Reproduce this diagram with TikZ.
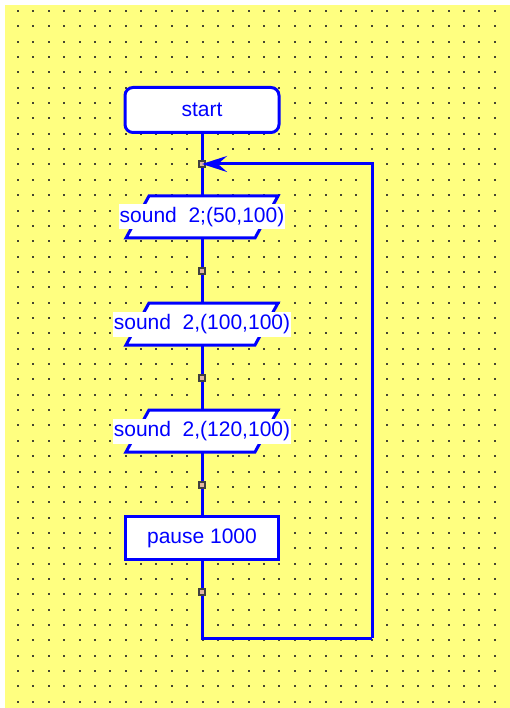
\documentclass[tikz,border=0pt]{standalone}
\usepackage{fontspec}
\setmainfont{Liberation Sans}
\usetikzlibrary{arrows.meta}

\definecolor{paper}{RGB}{255,255,128}
\definecolor{flow}{RGB}{0,0,255}
\definecolor{pin}{RGB}{224,182,160}
\definecolor{griddot}{RGB}{70,70,50}

\begin{document}
\begin{tikzpicture}[x=1pt,y=-1pt,
    >={Stealth[length=25pt,width=16pt,inset=9pt]},
    node distance=107pt,
    every node/.style={font=\fontsize{21}{24}\selectfont,text=flow},
    wire/.style={draw=flow,line width=3pt},
    startbox/.style={draw=flow,line width=3pt,fill=white,rounded corners=8pt,
                     minimum width=154pt,minimum height=45pt},
    pausebox/.style={draw=flow,line width=3pt,fill=white,
                     minimum width=153pt,minimum height=43pt},
    iospot/.style={inner sep=0pt,minimum width=106pt,minimum height=42pt},
    ioline/.style={draw=flow,line width=3pt,fill=white,line join=miter},
    iotext/.style={fill=white,inner xsep=1pt,inner ysep=0pt,minimum height=25pt},
    joint/.style={draw=black!75,fill=pin,line width=1.2pt,inner sep=0pt,minimum size=6pt}]

  % sheet and dot grid
  \fill[white] (0,0) rectangle (510,708);
  \fill[paper] (5,5) rectangle (510,708);
  \foreach \i in {0,...,31}
    \foreach \j in {0,...,45}
      \fill[griddot] ({17+15.38*\i},{10+15.35*\j}) rectangle +(2,2);

  \node[startbox] (start) at (202,110) {start};
  \node[iospot]   (io1) [below of=start] {};
  \node[iospot]   (io2) [below of=io1]   {};
  \node[iospot]   (io3) [below of=io2]   {};
  \node[pausebox] (pause) [below of=io3] {pause 1000};

  % slanted output boxes
  \foreach \n in {io1,io2,io3}
    \draw[ioline] ([shift={(-53,-21)}]\n.center) -- ([shift={(76,-21)}]\n.center)
               -- ([shift={(53,21)}]\n.center) -- ([shift={(-76,21)}]\n.center) -- cycle;

  \node[iotext] (snd1) at (io1) {sound\ \ 2;(50,100)};
  \node[iotext] (snd2) at (io2) {sound\ \ 2,(100,100)};
  \node[iotext] (snd3) at (io3) {sound\ \ 2,(120,100)};

  \coordinate[node distance=54pt,below of=start] (j0);
  \coordinate[node distance=54pt,below of=io1]   (j1);
  \coordinate[node distance=54pt,below of=io2]   (j2);
  \coordinate[node distance=54pt,below of=io3]   (j3);
  \coordinate[node distance=54pt,below of=pause] (j4);
  \coordinate (back) at (372,638);

  \draw[wire] (start) -- (io1) -- (io2) -- (io3) -- (pause) |- (back);
  \foreach \k in {0,...,4}
    \node[joint] (m\k) at (j\k) {};
  \draw[wire,->] (back) |- (m0.center);

\end{tikzpicture}
\end{document}
